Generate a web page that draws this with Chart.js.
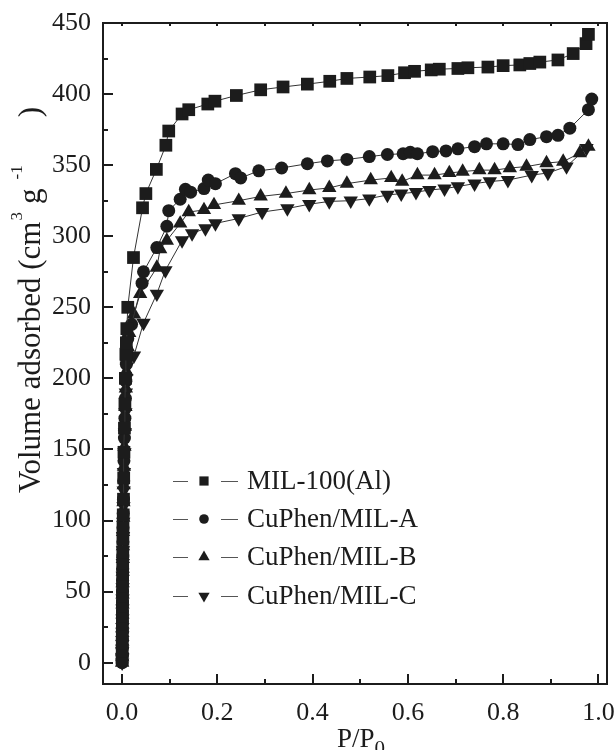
<!DOCTYPE html>
<html>
<head>
<meta charset="utf-8">
<script src="https://cdn.jsdelivr.net/npm/chart.js@4.4.1/dist/chart.umd.min.js"></script>
<style>
    html, body { margin: 0; padding: 0; background: #fff; }
    #isotherm { display: block; }
</style>
</head>
<body>
<canvas id="isotherm" width="616" height="750"></canvas>
<script>
// Relative pressure (P/P0) and volume adsorbed (cm3 g-1)
const milP = [0.0002, 0.0003, 0.0004, 0.0005, 0.0006, 0.0007, 0.0008, 0.0009, 0.001, 0.0012, 0.0014, 0.0016, 0.0018, 0.002, 0.0025, 0.003, 0.0035, 0.004, 0.005, 0.006, 0.007, 0.008, 0.009, 0.010, 0.012,
    0.024, 0.043, 0.050, 0.072, 0.092, 0.098, 0.126, 0.140, 0.180, 0.195, 0.240, 0.291, 0.338, 0.389, 0.436, 0.472, 0.520, 0.558, 0.593, 0.614,
    0.649, 0.666, 0.705, 0.726, 0.768, 0.800, 0.835, 0.856, 0.877, 0.915, 0.947, 0.974, 0.979];
const milV = [2, 8, 14, 20, 27, 33, 40, 47, 54, 62, 70, 78, 87, 95, 104, 115, 130, 148, 165, 182, 200, 217, 225, 235, 250,
    285, 320, 330, 347, 364, 374, 386, 389, 393, 395, 399, 403, 405, 407, 409, 411, 412, 413, 415, 416,
    417, 417.5, 418, 418.5, 419, 420, 420.5, 421.5, 422.5, 424, 428.5, 435.5, 442];

const aP = [0.0002, 0.0003, 0.0004, 0.0005, 0.0006, 0.0007, 0.0008, 0.0009, 0.001, 0.0012, 0.0014, 0.0016, 0.0018, 0.002, 0.0025, 0.003, 0.0035, 0.004, 0.005, 0.006, 0.007, 0.008, 0.009, 0.010, 0.012,
    0.020, 0.042, 0.045, 0.073, 0.094, 0.098, 0.122, 0.133, 0.144, 0.172, 0.181, 0.196, 0.238, 0.249, 0.287, 0.335, 0.389, 0.431, 0.472, 0.519,
    0.557, 0.590, 0.605, 0.620, 0.652, 0.680, 0.705, 0.740, 0.765, 0.800, 0.831, 0.856, 0.891, 0.915, 0.940, 0.979, 0.986];
const aV = [0, 5, 10, 16, 22, 28, 35, 42, 50, 58, 66, 75, 85, 95, 105, 115, 128, 142, 158, 172, 186, 198, 210, 220, 228,
    238, 267, 275, 292, 307, 318, 326, 333, 331, 333.5, 339.5, 337, 344, 341, 346, 348, 351, 353, 354, 356,
    357.5, 358, 359, 358, 359.5, 360, 361.5, 363, 365, 365, 364.5, 368, 370, 371, 376, 389, 396.5];

const bP = [0.0002, 0.0003, 0.0004, 0.0005, 0.0006, 0.0007, 0.0008, 0.0009, 0.001, 0.0012, 0.0014, 0.0016, 0.0018, 0.002, 0.0025, 0.003, 0.0035, 0.004, 0.005, 0.006, 0.007, 0.008, 0.009, 0.010, 0.012,
    0.015, 0.025, 0.038, 0.073, 0.080, 0.094, 0.122, 0.140, 0.172, 0.193, 0.245, 0.291, 0.344, 0.393, 0.435, 0.472, 0.522, 0.565, 0.588, 0.620,
    0.656, 0.687, 0.715, 0.750, 0.782, 0.814, 0.849, 0.891, 0.926, 0.961, 0.979];
const bV = [0, 4, 9, 15, 21, 27, 34, 41, 48, 56, 64, 73, 82, 92, 102, 113, 125, 138, 152, 166, 180, 193, 205, 215, 222,
    232, 245, 259.5, 278, 291, 297, 309, 317, 318.5, 322, 325, 328, 330, 332.5, 334, 337, 339.5, 341, 338.5, 343,
    343, 344.5, 345.5, 346.5, 346.5, 348, 349, 351.5, 352.5, 358.5, 363];

const cP = [0.0002, 0.0003, 0.0004, 0.0005, 0.0006, 0.0007, 0.0008, 0.0009, 0.001, 0.0012, 0.0014, 0.0016, 0.0018, 0.002, 0.0025, 0.003, 0.0035, 0.004, 0.005, 0.006, 0.007, 0.008, 0.009, 0.010, 0.012,
    0.025, 0.045, 0.073, 0.091, 0.126, 0.147, 0.175, 0.196, 0.245, 0.294, 0.347, 0.393, 0.435, 0.480, 0.519, 0.557, 0.586, 0.617, 0.645, 0.677,
    0.705, 0.740, 0.772, 0.810, 0.860, 0.894, 0.933, 0.975];
const cV = [0, 3, 8, 13, 19, 25, 31, 38, 45, 53, 61, 70, 79, 89, 99, 110, 121, 134, 148, 162, 176, 190, 200, 208, 212,
    216, 239, 259.5, 276, 297, 302, 305.5, 309, 312.5, 317, 319.5, 322.5, 324.5, 325, 326.5, 329, 330, 331, 332.5, 333.5,
    335, 337, 338.5, 339.5, 343, 344.5, 349, 362];

const seriesNames = ['MIL-100(Al)', 'CuPhen/MIL-A', 'CuPhen/MIL-B', 'CuPhen/MIL-C'];

const xTicks = [0, 0.2, 0.4, 0.6, 0.8, 1.0];
const xMinorTicks = [0.1, 0.3, 0.5, 0.7, 0.9];
const yTicks = [0, 50, 100, 150, 200, 250, 300, 350, 400, 450];
const yMinorTicks = [25, 75, 125, 175, 225, 275, 325, 375, 425];

const INK = '#1c1c1c';
const FONT = "'Liberation Serif', 'Times New Roman', serif";

function toPoints(xs, ys) {
    return xs.map((x, i) => ({ x: x, y: ys[i] }));
}

function makeSeries(label, xs, ys, style, radius, rotation) {
    return {
        label: label,
        data: toPoints(xs, ys),
        showLine: true,
        borderColor: '#333',
        borderWidth: 1,
        backgroundColor: INK,
        pointStyle: style,
        pointRadius: radius,
        pointRotation: rotation,
        pointBorderWidth: 0,
        pointBackgroundColor: INK,
        pointHoverRadius: radius
    };
}

// Frame and inward tick marks
const frameTicks = {
    id: 'frameTicks',
    afterDatasetsDraw(chart) {
        const { ctx, chartArea: a, scales: { x, y } } = chart;
        ctx.save();
        ctx.strokeStyle = INK;
        ctx.lineWidth = 2;
        ctx.beginPath();
        xTicks.forEach(v => {
            const px = Math.round(x.getPixelForValue(v));
            ctx.moveTo(px, a.bottom); ctx.lineTo(px, a.bottom - 10);
            ctx.moveTo(px, a.top); ctx.lineTo(px, a.top + 3);
        });
        xMinorTicks.forEach(v => {
            const px = Math.round(x.getPixelForValue(v));
            ctx.moveTo(px, a.bottom); ctx.lineTo(px, a.bottom - 5);
            ctx.moveTo(px, a.top); ctx.lineTo(px, a.top + 3);
        });
        yTicks.forEach(v => {
            const py = Math.round(y.getPixelForValue(v));
            ctx.moveTo(a.left, py); ctx.lineTo(a.left + 10, py);
        });
        yMinorTicks.forEach(v => {
            const py = Math.round(y.getPixelForValue(v));
            ctx.moveTo(a.left, py); ctx.lineTo(a.left + 5, py);
        });
        ctx.stroke();
        ctx.strokeRect(a.left, a.top, a.right - a.left, a.bottom - a.top);
        ctx.restore();
    }
};

function drawMarker(ctx, style, rotation, cx, cy, r) {
    ctx.beginPath();
    if (style === 'rect') {
        const s = r * Math.SQRT1_2;
        ctx.rect(cx - s, cy - s, 2 * s, 2 * s);
    } else if (style === 'circle') {
        ctx.arc(cx, cy, r, 0, Math.PI * 2);
    } else {
        const dir = rotation === 180 ? -1 : 1;
        const h = r * 1.5;
        const w = r * Math.sqrt(3) / 2;
        ctx.moveTo(cx, cy - dir * r);
        ctx.lineTo(cx + w, cy + dir * (h - r));
        ctx.lineTo(cx - w, cy + dir * (h - r));
        ctx.closePath();
    }
    ctx.fill();
}

// Legend inside the plot, lower left
const insideLegend = {
    id: 'insideLegend',
    afterDraw(chart) {
        const ctx = chart.ctx;
        const baselines = [489, 527, 565, 604];
        const radii = [6.5, 4.8, 6.5, 6.5];
        ctx.save();
        chart.data.datasets.forEach((ds, i) => {
            const yb = baselines[i];
            const ym = yb - 8;
            ctx.strokeStyle = '#555';
            ctx.lineWidth = 1;
            ctx.beginPath();
            ctx.moveTo(173, ym + 0.5); ctx.lineTo(188, ym + 0.5);
            ctx.moveTo(221, ym + 0.5); ctx.lineTo(238, ym + 0.5);
            ctx.stroke();
            ctx.fillStyle = INK;
            drawMarker(ctx, ds.pointStyle, ds.pointRotation, 204, ym, radii[i]);
            ctx.font = '27px ' + FONT;
            ctx.textBaseline = 'alphabetic';
            ctx.textAlign = 'left';
            ctx.fillText(ds.label, 247, yb);
        });
        ctx.restore();
    }
};

// Axis titles with sub/superscripts; gap = extra space before a run
function drawRuns(ctx, runs, startX, baseY) {
    let cx = startX;
    runs.forEach(r => {
        cx += r.gap || 0;
        ctx.font = r.size + 'px ' + FONT;
        ctx.fillText(r.text, cx, baseY + r.dy);
        cx += ctx.measureText(r.text).width;
    });
}

const axisTitles = {
    id: 'axisTitles',
    afterDraw(chart) {
        const ctx = chart.ctx;
        ctx.save();
        ctx.fillStyle = INK;
        ctx.textBaseline = 'alphabetic';
        ctx.textAlign = 'left';

        const yRuns = [
            { text: 'Volume adsorbed (cm', size: 31, dy: 0 },
            { text: '3', size: 17, dy: -18, gap: 1 },
            { text: 'g', size: 31, dy: 0, gap: 8 },
            { text: '-1', size: 17, dy: -18, gap: 9 },
            { text: ')', size: 31, dy: 0, gap: 48 }
        ];
        // text starts near y=493 and reads upward
        ctx.translate(40, 493);
        ctx.rotate(-Math.PI / 2);
        drawRuns(ctx, yRuns, 0, 0);
        ctx.setTransform(1, 0, 0, 1, 0, 0);

        const xRuns = [
            { text: 'P/P', size: 27, dy: 0 },
            { text: '0', size: 21, dy: 8 }
        ];
        drawRuns(ctx, xRuns, 337, 747);
        ctx.restore();
    }
};

const tickFont = { family: FONT, size: 26 };

new Chart(document.getElementById('isotherm'), {
    type: 'scatter',
    data: {
        datasets: [
            makeSeries(seriesNames[0], milP, milV, 'rect', 9, 0),
            makeSeries(seriesNames[1], aP, aV, 'circle', 6.5, 0),
            makeSeries(seriesNames[2], bP, bV, 'triangle', 8.3, 0),
            makeSeries(seriesNames[3], cP, cV, 'triangle', 8.3, 180)
        ]
    },
    options: {
        responsive: false,
        animation: false,
        layout: { padding: { top: 23, right: 9, left: 0, bottom: 0 } },
        plugins: {
            legend: { display: false },
            tooltip: { enabled: false }
        },
        scales: {
            x: {
                type: 'linear',
                min: -0.04,
                max: 1.018,
                afterFit: s => { s.height = 66; s.paddingLeft = 0; s.paddingRight = 0; },
                afterBuildTicks: s => { s.ticks = xTicks.map(v => ({ value: v })); },
                grid: { display: false, drawTicks: false },
                border: { display: false },
                ticks: {
                    color: INK,
                    font: tickFont,
                    padding: 14,
                    maxRotation: 0,
                    callback: v => Number(v).toFixed(1)
                }
            },
            y: {
                type: 'linear',
                min: -15,
                max: 450,
                afterFit: s => { s.width = 103; s.paddingTop = 0; s.paddingBottom = 0; },
                afterBuildTicks: s => { s.ticks = yTicks.map(v => ({ value: v })); },
                grid: { display: false, drawTicks: false },
                border: { display: false },
                ticks: {
                    color: INK,
                    font: tickFont,
                    padding: 12,
                    callback: v => String(v)
                }
            }
        }
    },
    plugins: [frameTicks, insideLegend, axisTitles]
});
</script>
</body>
</html>
